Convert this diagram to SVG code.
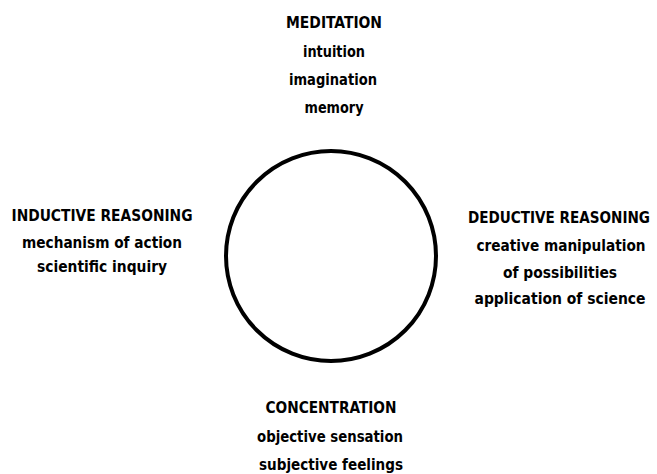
<svg xmlns="http://www.w3.org/2000/svg" width="657" height="474" viewBox="0 0 657 474">
<style>
text{font-family:"DejaVu Sans Condensed","DejaVu Sans",sans-serif;font-weight:bold;font-stretch:condensed;font-size:16px;fill:#000;text-anchor:middle}
.ring{fill:none;stroke:#000;stroke-width:4}
</style>
<rect width="657" height="474" fill="#fff"/>
<g id="cycle">
<circle class="ring" cx="331" cy="256" r="105"/>
</g>
<g id="connectors"></g>
<g id="meditation">
<text x="334" y="28" textLength="96" lengthAdjust="spacingAndGlyphs">MEDITATION</text>
<text x="334" y="57" textLength="62" lengthAdjust="spacingAndGlyphs">intuition</text>
<text x="333" y="85" textLength="88" lengthAdjust="spacingAndGlyphs">imagination</text>
<text x="334" y="113" textLength="59" lengthAdjust="spacingAndGlyphs">memory</text>
</g>
<g id="inductive">
<text x="102" y="221" textLength="181" lengthAdjust="spacingAndGlyphs">INDUCTIVE REASONING</text>
<text x="102" y="248" textLength="160" lengthAdjust="spacingAndGlyphs">mechanism of action</text>
<text x="102" y="272" textLength="130" lengthAdjust="spacingAndGlyphs">scientific inquiry</text>
</g>
<g id="deductive">
<text x="559" y="223" textLength="182" lengthAdjust="spacingAndGlyphs" style="font-size:15px">DEDUCTIVE REASONING</text>
<text x="561" y="251" textLength="169" lengthAdjust="spacingAndGlyphs">creative manipulation</text>
<text x="560" y="278" textLength="114" lengthAdjust="spacingAndGlyphs">of possibilities</text>
<text x="560" y="304" textLength="171" lengthAdjust="spacingAndGlyphs">application of science</text>
</g>
<g id="concentration">
<text x="331" y="413" textLength="131" lengthAdjust="spacingAndGlyphs">CONCENTRATION</text>
<text x="330" y="442" textLength="146" lengthAdjust="spacingAndGlyphs">objective sensation</text>
<text x="331" y="470" textLength="144" lengthAdjust="spacingAndGlyphs">subjective feelings</text>
</g>
</svg>
